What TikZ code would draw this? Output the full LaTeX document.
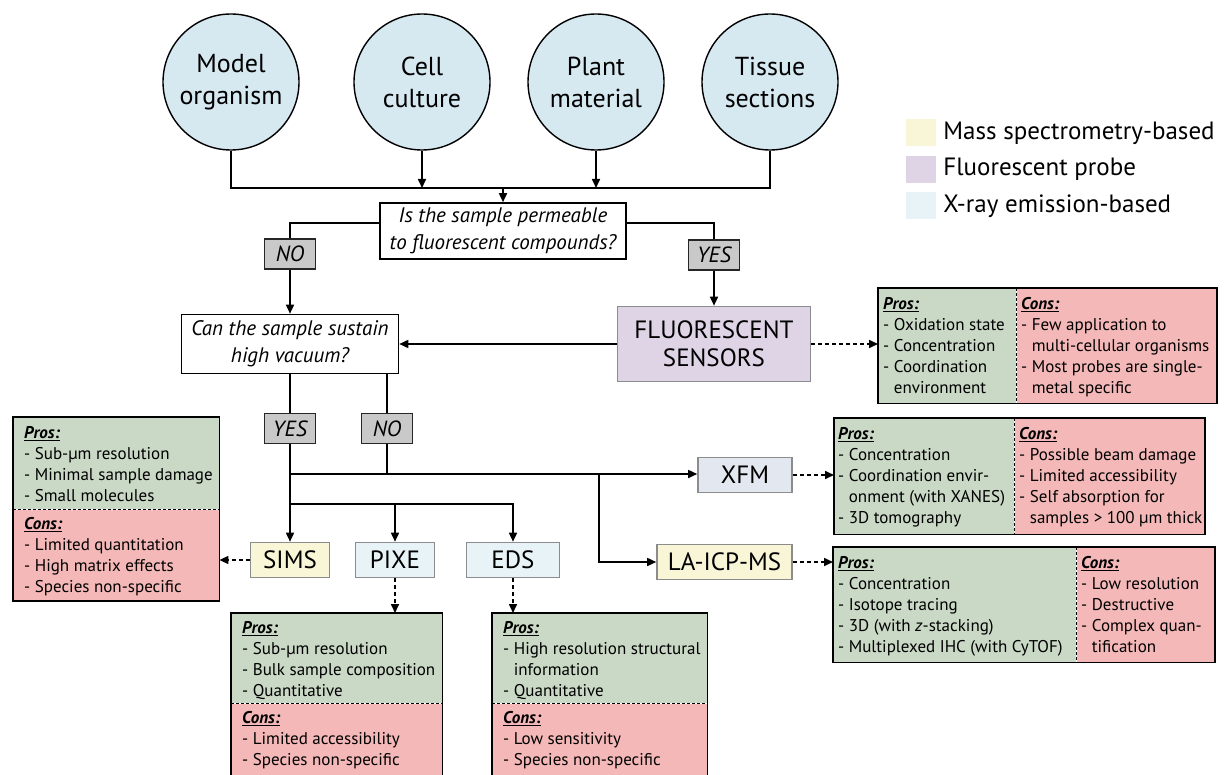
\documentclass[tikz,border=0pt]{standalone}
\usepackage{fontspec}
\setmainfont{PT Sans}
\usetikzlibrary{positioning, arrows.meta}

\definecolor{samplefill}{HTML}{D6E8F0}
\definecolor{answerfill}{HTML}{C9C9C9}
\definecolor{msfill}{HTML}{F8F6D6}
\definecolor{fpfill}{HTML}{DFD3E6}
\definecolor{xrfill}{HTML}{E8F3F8}
\definecolor{xfmfill}{HTML}{E3E7EF}
\definecolor{profill}{HTML}{CAD8C6}
\definecolor{confill}{HTML}{F5B8B8}
\definecolor{methodline}{HTML}{8C8C8C}

\newcommand{\pchead}[1]{\textbf{\textit{\underline{#1}}}}
\newcommand{\cont}{\hphantom{-}\ }

\tikzset{
  sample/.style={circle, draw, line width=1.4pt, fill=samplefill, minimum size=136pt, inner sep=0pt, align=center, font=\fontsize{26}{32}\selectfont},
  question/.style={draw, line width=1.6pt, fill=white, inner sep=0pt, align=center, font=\itshape\fontsize{21}{27}\selectfont},
  answer/.style={draw=black!85, line width=1.5pt, fill=answerfill, minimum width=51pt, minimum height=30pt, inner sep=0pt, font=\itshape\fontsize{22}{24}\selectfont},
  method/.style={draw=methodline, line width=1.6pt, minimum height=35pt, inner sep=0pt, font=\fontsize{25}{27}\selectfont},
  pro/.style={fill=profill, anchor=north west, inner sep=0pt},
  con/.style={fill=confill, anchor=north west, inner sep=0pt},
  pctext/.style={anchor=north west, align=left, inner sep=0pt, font=\fontsize{17}{21}\selectfont},
  swatch/.style={minimum width=30pt, minimum height=27pt, inner sep=0pt},
  legtext/.style={right=7pt of #1, inner sep=0pt, font=\fontsize{25}{27}\selectfont},
  link/.style={line width=1.6pt},
  dotlink/.style={line width=1.6pt, dash pattern=on 4pt off 3pt, -{Triangle[length=9pt,width=8pt]}},
  frame/.style={line width=1.6pt},
  split/.style={line width=1.3pt, dash pattern=on 3pt off 2pt}
}

\begin{document}
\begin{tikzpicture}[x=1pt, y=-1pt, >={Triangle[length=9pt,width=8pt]}]
\useasboundingbox (0,0) rectangle (1228,775);
\clip (0,0) rectangle (1228,775);

\node[sample] (model) at (231,82) {Model\\organism};
\node[sample] (cell) at (422,82) {Cell\\culture};
\node[sample] (plant) at (596,82) {Plant\\material};
\node[sample] (tissue) at (770,82) {Tissue\\sections};

% legend
\node[swatch, fill=msfill] (lgms) at (921,133) {};
\node[swatch, fill=fpfill, below=9pt of lgms] (lgfp) {};
\node[swatch, fill=xrfill, below=9pt of lgfp] (lgxr) {};
\node[legtext=lgms] (lgmstext) {Mass spectrometry-based};
\node[legtext=lgfp] (lgfptext) {Fluorescent probe};
\node[legtext=lgxr] (lgxrtext) {X-ray emission-based};

\node[question, minimum width=246pt, minimum height=56pt] (perm) at (503,231) {Is the sample permeable\\to fluorescent compounds?};
\node[answer] (permno) at (290,254) {NO};
\node[answer] (permyes) at (714,255) {YES};
\node[question, minimum width=217pt, minimum height=59pt] (vacuum) at (290,344) {Can the sample sustain\\high vacuum?};
\node[method, fill=fpfill, minimum width=193pt, minimum height=75pt, align=center, font=\fontsize{25}{28}\selectfont] (fluor) at (714,344) {FLUORESCENT\\SENSORS};
\node[answer] (vacyes) at (290,428.5) {YES};
\node[answer] (vacno) at (387,428.5) {NO};

\node[method, fill=msfill, minimum width=79pt] (sims) at (290,560) {SIMS};
\node[method, fill=xrfill, minimum width=79pt] (pixe) at (395,560) {PIXE};
\node[method, fill=xrfill, minimum width=93pt] (eds) at (513,560) {EDS};
\node[method, fill=xfmfill, minimum width=94pt] (xfm) at (745,475) {XFM};
\node[method, fill=msfill, minimum width=135pt] (laicp) at (724.5,562) {LA-ICP-MS};

\coordinate (bus) at (503,188);
\coordinate (vacbus) at (290,474);
\coordinate (subbus) at (290,504);
\coordinate (lasplit) at (599,474);

\draw[link] (model.south) |- (bus) -| (tissue.south);
\draw[link, ->] (cell.south) -- (cell.south |- bus);
\draw[link, ->] (plant.south) -- (plant.south |- bus);
\draw[link, ->] (bus) -- (perm.north);
\draw[link] ([yshift=8pt]perm.west) -| (permno.north);
\draw[link] ([yshift=8pt]perm.east) -| (permyes.north);
\draw[link, ->] (permno) -- (vacuum);
\draw[link, ->] (permyes) -- (fluor);
\draw[link, ->] (fluor) -- (vacuum);
\draw[link] (vacuum.south -| vacyes) -- (vacyes);
\draw[link] (vacuum.south -| vacno) -- (vacno);
\draw[link, ->] (vacyes) -- (sims);
\draw[link] (vacno) |- (vacbus);
\draw[link, ->] (vacbus) -- (vacbus -| xfm.west);
\draw[link, ->] (lasplit) |- (laicp.west);
\draw[link, ->] (subbus) -| (eds.north);
\draw[link, ->] (subbus -| pixe.north) -- (pixe.north);

% pros and cons
\node[pro, minimum width=138pt, minimum height=115pt] (fspro) at (878,288) {};
\node[con, minimum width=200pt, minimum height=115pt] (fscon) at (fspro.north east) {};
\draw[frame] (fspro.north west) rectangle (fscon.south east);
\draw[split] (fspro.north east) -- (fspro.south east);
\node[pctext] at (883,297) {\pchead{Pros:}\\- Oxidation state\\- Concentration\\- Coordination\\\cont environment};
\node[pctext] at (1021,297) {\pchead{Cons:}\\- Few application to\\\cont multi-cellular organisms\\- Most probes are single-\\\cont metal specific};

\node[pro, minimum width=180pt, minimum height=116pt] (xfmpro) at (834,418) {};
\node[con, minimum width=190pt, minimum height=116pt] (xfmcon) at (xfmpro.north east) {};
\draw[frame] (xfmpro.north west) rectangle (xfmcon.south east);
\draw[split] (xfmpro.north east) -- (xfmpro.south east);
\node[pctext] at (838,427) {\pchead{Pros:}\\- Concentration\\- Coordination envir-\\\cont onment (with XANES)\\- 3D tomography};
\node[pctext] at (1019,427) {\pchead{Cons:}\\- Possible beam damage\\- Limited accessibility\\- Self absorption for\\\cont samples > 100 µm thick};

\node[pro, minimum width=243pt, minimum height=115pt] (lapro) at (833,547) {};
\node[con, minimum width=138pt, minimum height=115pt] (lacon) at (lapro.north east) {};
\draw[frame] (lapro.north west) rectangle (lacon.south east);
\draw[split] (lapro.north east) -- (lapro.south east);
\node[pctext] at (838,556) {\pchead{Pros:}\\- Concentration\\- Isotope tracing\\- 3D (with \textit{z}-stacking)\\- Multiplexed IHC (with CyTOF)};
\node[pctext] at (1081,556) {\pchead{Cons:}\\- Low resolution\\- Destructive\\- Complex quan-\\\cont tification};

\node[pro, minimum width=206pt, minimum height=92pt] (simspro) at (13,417) {};
\node[con, minimum width=206pt, minimum height=91pt] (simscon) at (simspro.south west) {};
\draw[frame] (simspro.north west) rectangle (simscon.south east);
\draw[split] (simspro.south west) -- (simspro.south east);
\node[pctext] at (24,426) {\pchead{Pros:}\\- Sub-µm resolution\\- Minimal sample damage\\- Small molecules};
\node[pctext] at (24,517) {\pchead{Cons:}\\- Limited quantitation\\- High matrix effects\\- Species non-specific};

\node[pro, minimum width=211pt, minimum height=90pt] (pixepro) at (231,613) {};
\node[con, minimum width=211pt, minimum height=90pt] (pixecon) at (pixepro.south west) {};
\draw[frame] (pixepro.north west) rectangle (pixecon.south east);
\draw[split] (pixepro.south west) -- (pixepro.south east);
\node[pctext] at (242,621) {\pchead{Pros:}\\- Sub-µm resolution\\- Bulk sample composition\\- Quantitative};
\node[pctext] at (242,711) {\pchead{Cons:}\\- Limited accessibility\\- Species non-specific};

\node[pro, minimum width=215pt, minimum height=90pt] (edspro) at (492,613) {};
\node[con, minimum width=215pt, minimum height=90pt] (edscon) at (edspro.south west) {};
\draw[frame] (edspro.north west) rectangle (edscon.south east);
\draw[split] (edspro.south west) -- (edspro.south east);
\node[pctext] at (503,621) {\pchead{Pros:}\\- High resolution structural\\\cont information\\- Quantitative};
\node[pctext] at (503,711) {\pchead{Cons:}\\- Low sensitivity\\- Species non-specific};

\draw[dotlink] (fluor) -- (fluor -| fspro.west);
\draw[dotlink] (xfm) -- (xfm -| xfmpro.west);
\draw[dotlink] (laicp) -- (laicp -| lapro.west);
\draw[dotlink] (sims) -- (sims -| simspro.east);
\draw[dotlink] (pixe) -- (pixe |- pixepro.north);
\draw[dotlink] (eds) -- (eds |- edspro.north);
\end{tikzpicture}
\end{document}
